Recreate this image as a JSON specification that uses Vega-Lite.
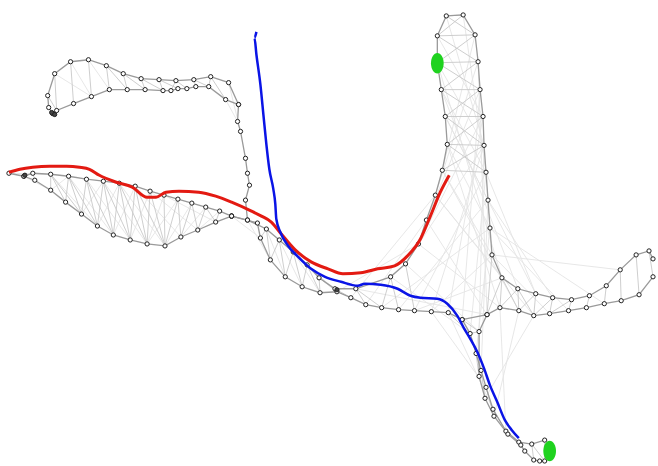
{
"$schema":"https://vega.github.io/schema/vega-lite/v6.json",
"width":658,"height":466,"padding":0,
"autosize":{"type":"fit","contains":"padding"},
"background":"white",
"config":{"view":{"stroke":null}},
"datasets":{
"chains":[
{"c":"a","i":0,"x":53,"y":114},{"c":"a","i":1,"x":49,"y":108},{"c":"a","i":2,"x":48,"y":96},{"c":"a","i":3,"x":55,"y":74},{"c":"a","i":4,"x":71,"y":62},{"c":"a","i":5,"x":89,"y":60},{"c":"a","i":6,"x":107,"y":66},{"c":"a","i":7,"x":124,"y":74},{"c":"a","i":8,"x":142,"y":79},{"c":"a","i":9,"x":160,"y":80},{"c":"a","i":10,"x":177,"y":81},{"c":"a","i":11,"x":195,"y":80},{"c":"a","i":12,"x":212,"y":77},{"c":"a","i":13,"x":230,"y":83},{"c":"a","i":14,"x":240,"y":105},{"c":"a","i":15,"x":239,"y":122},{"c":"a","i":16,"x":242,"y":132},{"c":"a","i":17,"x":247,"y":159},{"c":"a","i":18,"x":249,"y":174},{"c":"a","i":19,"x":251,"y":186},{"c":"a","i":20,"x":247,"y":201},{"c":"a","i":21,"x":249,"y":221},
{"c":"b","i":0,"x":53,"y":114},{"c":"b","i":1,"x":57,"y":111},{"c":"b","i":2,"x":74,"y":104},{"c":"b","i":3,"x":92,"y":97},{"c":"b","i":4,"x":110,"y":90},{"c":"b","i":5,"x":128,"y":90},{"c":"b","i":6,"x":146,"y":90},{"c":"b","i":7,"x":164,"y":91},{"c":"b","i":8,"x":172,"y":91},{"c":"b","i":9,"x":179,"y":89},{"c":"b","i":10,"x":188,"y":89},{"c":"b","i":11,"x":197,"y":87},{"c":"b","i":12,"x":210,"y":87},{"c":"b","i":13,"x":227,"y":100},{"c":"b","i":14,"x":240,"y":105},
{"c":"c","i":0,"x":9,"y":174},{"c":"c","i":1,"x":24,"y":177},{"c":"c","i":2,"x":33,"y":174},{"c":"c","i":3,"x":51,"y":175},{"c":"c","i":4,"x":69,"y":177},{"c":"c","i":5,"x":87,"y":180},{"c":"c","i":6,"x":104,"y":182},{"c":"c","i":7,"x":120,"y":184},{"c":"c","i":8,"x":136,"y":187},{"c":"c","i":9,"x":151,"y":192},{"c":"c","i":10,"x":165,"y":196},{"c":"c","i":11,"x":179,"y":200},{"c":"c","i":12,"x":193,"y":204},{"c":"c","i":13,"x":207,"y":208},{"c":"c","i":14,"x":221,"y":212},{"c":"c","i":15,"x":233,"y":217},
{"c":"d","i":0,"x":24,"y":177},{"c":"d","i":1,"x":35,"y":181},{"c":"d","i":2,"x":51,"y":191},{"c":"d","i":3,"x":66,"y":203},{"c":"d","i":4,"x":82,"y":215},{"c":"d","i":5,"x":98,"y":227},{"c":"d","i":6,"x":114,"y":236},{"c":"d","i":7,"x":131,"y":241},{"c":"d","i":8,"x":148,"y":245},{"c":"d","i":9,"x":166,"y":247},{"c":"d","i":10,"x":182,"y":238},{"c":"d","i":11,"x":199,"y":231},{"c":"d","i":12,"x":217,"y":223},{"c":"d","i":13,"x":233,"y":217},
{"c":"e","i":0,"x":233,"y":217},{"c":"e","i":1,"x":249,"y":221},{"c":"e","i":2,"x":268,"y":230},{"c":"e","i":3,"x":281,"y":241},{"c":"e","i":4,"x":295,"y":253},{"c":"e","i":5,"x":309,"y":266},{"c":"e","i":6,"x":321,"y":279},{"c":"e","i":7,"x":337,"y":290},{"c":"e","i":8,"x":358,"y":290},{"c":"e","i":9,"x":393,"y":278},{"c":"e","i":10,"x":408,"y":265},{"c":"e","i":11,"x":421,"y":245},{"c":"e","i":12,"x":429,"y":221},{"c":"e","i":13,"x":438,"y":196},{"c":"e","i":14,"x":445,"y":171},{"c":"e","i":15,"x":450,"y":145},{"c":"e","i":16,"x":448,"y":117},{"c":"e","i":17,"x":444,"y":90},{"c":"e","i":18,"x":440,"y":63},{"c":"e","i":19,"x":440,"y":36},{"c":"e","i":20,"x":449,"y":16},{"c":"e","i":21,"x":466,"y":15},{"c":"e","i":22,"x":478,"y":35},{"c":"e","i":23,"x":481,"y":62},{"c":"e","i":24,"x":483,"y":90},{"c":"e","i":25,"x":486,"y":117},{"c":"e","i":26,"x":487,"y":146},{"c":"e","i":27,"x":489,"y":173},{"c":"e","i":28,"x":491,"y":201},{"c":"e","i":29,"x":493,"y":229},{"c":"e","i":30,"x":495,"y":256},{"c":"e","i":31,"x":505,"y":279},{"c":"e","i":32,"x":521,"y":290},{"c":"e","i":33,"x":539,"y":295},{"c":"e","i":34,"x":556,"y":299},{"c":"e","i":35,"x":575,"y":301},{"c":"e","i":36,"x":593,"y":297},{"c":"e","i":37,"x":610,"y":287},{"c":"e","i":38,"x":624,"y":271},{"c":"e","i":39,"x":640,"y":256},{"c":"e","i":40,"x":653,"y":252},{"c":"e","i":41,"x":657,"y":260},
{"c":"f","i":0,"x":233,"y":217},{"c":"f","i":1,"x":259,"y":224},{"c":"f","i":2,"x":262,"y":239},{"c":"f","i":3,"x":272,"y":261},{"c":"f","i":4,"x":287,"y":278},{"c":"f","i":5,"x":304,"y":288},{"c":"f","i":6,"x":322,"y":294},{"c":"f","i":7,"x":339,"y":293},{"c":"f","i":8,"x":353,"y":299},{"c":"f","i":9,"x":368,"y":306},{"c":"f","i":10,"x":384,"y":309},{"c":"f","i":11,"x":401,"y":311},{"c":"f","i":12,"x":417,"y":312},{"c":"f","i":13,"x":434,"y":313},{"c":"f","i":14,"x":451,"y":314},{"c":"f","i":15,"x":465,"y":321},{"c":"f","i":16,"x":490,"y":316},{"c":"f","i":17,"x":503,"y":309},{"c":"f","i":18,"x":522,"y":312},{"c":"f","i":19,"x":537,"y":317},{"c":"f","i":20,"x":553,"y":315},{"c":"f","i":21,"x":572,"y":312},{"c":"f","i":22,"x":590,"y":309},{"c":"f","i":23,"x":608,"y":305},{"c":"f","i":24,"x":625,"y":302},{"c":"f","i":25,"x":643,"y":296},{"c":"f","i":26,"x":657,"y":278},
{"c":"g","i":0,"x":465,"y":321},{"c":"g","i":1,"x":473,"y":335},{"c":"g","i":2,"x":479,"y":355},{"c":"g","i":3,"x":484,"y":372},{"c":"g","i":4,"x":489,"y":389},{"c":"g","i":5,"x":496,"y":411},{"c":"g","i":6,"x":509,"y":433},{"c":"g","i":7,"x":522,"y":444},{"c":"g","i":8,"x":535,"y":446},{"c":"g","i":9,"x":548,"y":442},
{"c":"h","i":0,"x":490,"y":316},{"c":"h","i":1,"x":482,"y":333},{"c":"h","i":2,"x":482,"y":378},{"c":"h","i":3,"x":488,"y":400},{"c":"h","i":4,"x":497,"y":418},{"c":"h","i":5,"x":511,"y":436},{"c":"h","i":6,"x":524,"y":447},{"c":"h","i":7,"x":528,"y":453},{"c":"h","i":8,"x":537,"y":462},{"c":"h","i":9,"x":543,"y":463},{"c":"h","i":10,"x":548,"y":463}
],
"rungs":[
{"x":71,"y":62,"x2":74,"y2":104},{"x":89,"y":60,"x2":92,"y2":97},{"x":107,"y":66,"x2":110,"y2":90},{"x":107,"y":66,"x2":128,"y2":90},{"x":124,"y":74,"x2":128,"y2":90},{"x":124,"y":74,"x2":146,"y2":90},{"x":142,"y":79,"x2":146,"y2":90},{"x":142,"y":79,"x2":164,"y2":91},{"x":160,"y":80,"x2":164,"y2":91},{"x":160,"y":80,"x2":179,"y2":89},{"x":177,"y":81,"x2":172,"y2":91},{"x":177,"y":81,"x2":188,"y2":89},{"x":195,"y":80,"x2":197,"y2":87},{"x":195,"y":80,"x2":210,"y2":87},{"x":212,"y":77,"x2":210,"y2":87},{"x":212,"y":77,"x2":227,"y2":100},{"x":55,"y":74,"x2":57,"y2":111},{"x":48,"y":96,"x2":57,"y2":111},
{"x":33,"y":174,"x2":35,"y2":181},{"x":51,"y":175,"x2":51,"y2":191},{"x":51,"y":175,"x2":66,"y2":203},{"x":69,"y":177,"x2":66,"y2":203},{"x":69,"y":177,"x2":82,"y2":215},{"x":87,"y":180,"x2":82,"y2":215},{"x":87,"y":180,"x2":98,"y2":227},{"x":104,"y":182,"x2":98,"y2":227},{"x":104,"y":182,"x2":114,"y2":236},{"x":120,"y":184,"x2":114,"y2":236},{"x":120,"y":184,"x2":131,"y2":241},{"x":136,"y":187,"x2":131,"y2":241},{"x":136,"y":187,"x2":148,"y2":245},{"x":151,"y":192,"x2":148,"y2":245},{"x":151,"y":192,"x2":166,"y2":247},{"x":165,"y":196,"x2":166,"y2":247},{"x":179,"y":200,"x2":166,"y2":247},{"x":179,"y":200,"x2":182,"y2":238},{"x":193,"y":204,"x2":182,"y2":238},{"x":193,"y":204,"x2":199,"y2":231},{"x":207,"y":208,"x2":199,"y2":231},{"x":207,"y":208,"x2":217,"y2":223},{"x":221,"y":212,"x2":217,"y2":223},{"x":69,"y":177,"x2":98,"y2":227},{"x":87,"y":180,"x2":114,"y2":236},{"x":104,"y":182,"x2":131,"y2":241},{"x":120,"y":184,"x2":148,"y2":245},{"x":136,"y":187,"x2":166,"y2":247},{"x":51,"y":175,"x2":82,"y2":215},
{"x":249,"y":221,"x2":259,"y2":224},{"x":268,"y":230,"x2":262,"y2":239},{"x":268,"y":230,"x2":272,"y2":261},{"x":281,"y":241,"x2":272,"y2":261},{"x":281,"y":241,"x2":287,"y2":278},{"x":295,"y":253,"x2":287,"y2":278},{"x":295,"y":253,"x2":304,"y2":288},{"x":309,"y":266,"x2":304,"y2":288},{"x":309,"y":266,"x2":322,"y2":294},{"x":321,"y":279,"x2":322,"y2":294},{"x":321,"y":279,"x2":339,"y2":293},{"x":337,"y":290,"x2":353,"y2":299},{"x":358,"y":290,"x2":368,"y2":306},{"x":358,"y":290,"x2":384,"y2":309},{"x":393,"y":278,"x2":401,"y2":311},{"x":393,"y":278,"x2":384,"y2":309},{"x":408,"y":265,"x2":417,"y2":312},
{"x":449,"y":16,"x2":466,"y2":15},{"x":440,"y":36,"x2":478,"y2":35},{"x":440,"y":63,"x2":481,"y2":62},{"x":444,"y":90,"x2":483,"y2":90},{"x":448,"y":117,"x2":486,"y2":117},{"x":450,"y":145,"x2":487,"y2":146},{"x":440,"y":36,"x2":466,"y2":15},{"x":449,"y":16,"x2":478,"y2":35},{"x":440,"y":63,"x2":478,"y2":35},{"x":444,"y":90,"x2":481,"y2":62},{"x":448,"y":117,"x2":483,"y2":90},{"x":450,"y":145,"x2":486,"y2":117},{"x":445,"y":171,"x2":487,"y2":146},{"x":440,"y":36,"x2":481,"y2":62},{"x":440,"y":63,"x2":483,"y2":90},{"x":444,"y":90,"x2":486,"y2":117},{"x":448,"y":117,"x2":487,"y2":146},{"x":450,"y":145,"x2":489,"y2":173},{"x":445,"y":171,"x2":489,"y2":173},
{"x":495,"y":256,"x2":490,"y2":316},{"x":505,"y":279,"x2":490,"y2":316},{"x":505,"y":279,"x2":503,"y2":309},{"x":521,"y":290,"x2":503,"y2":309},{"x":521,"y":290,"x2":522,"y2":312},{"x":539,"y":295,"x2":522,"y2":312},{"x":539,"y":295,"x2":537,"y2":317},{"x":556,"y":299,"x2":537,"y2":317},{"x":556,"y":299,"x2":553,"y2":315},{"x":575,"y":301,"x2":553,"y2":315},{"x":575,"y":301,"x2":572,"y2":312},{"x":593,"y":297,"x2":590,"y2":309},{"x":610,"y":287,"x2":608,"y2":305},{"x":624,"y":271,"x2":625,"y2":302},{"x":640,"y":256,"x2":643,"y2":296},{"x":653,"y":252,"x2":657,"y2":278},{"x":505,"y":279,"x2":522,"y2":312},{"x":521,"y":290,"x2":537,"y2":317},
{"x":473,"y":335,"x2":482,"y2":333},{"x":479,"y":355,"x2":482,"y2":378},{"x":484,"y":372,"x2":488,"y2":400},{"x":489,"y":389,"x2":497,"y2":418},{"x":496,"y":411,"x2":511,"y2":436},{"x":509,"y":433,"x2":524,"y2":447},{"x":522,"y":444,"x2":528,"y2":453},{"x":535,"y":446,"x2":537,"y2":462},{"x":548,"y":442,"x2":548,"y2":463},{"x":535,"y":446,"x2":548,"y2":463},{"x":451,"y":314,"x2":473,"y2":335},{"x":465,"y":321,"x2":482,"y2":333}
],
"haze":[
{"x":481,"y":62,"x2":490,"y2":316},{"x":483,"y":90,"x2":465,"y2":321},{"x":486,"y":117,"x2":451,"y2":314},{"x":487,"y":146,"x2":434,"y2":313},{"x":489,"y":173,"x2":417,"y2":312},{"x":491,"y":201,"x2":401,"y2":311},{"x":493,"y":229,"x2":384,"y2":309},{"x":440,"y":63,"x2":505,"y2":279},{"x":444,"y":90,"x2":521,"y2":290},{"x":448,"y":117,"x2":539,"y2":295},{"x":450,"y":145,"x2":503,"y2":309},{"x":445,"y":171,"x2":522,"y2":312},{"x":438,"y":196,"x2":537,"y2":317},{"x":429,"y":221,"x2":490,"y2":316},{"x":421,"y":245,"x2":503,"y2":309},{"x":408,"y":265,"x2":482,"y2":333},{"x":393,"y":278,"x2":473,"y2":335},{"x":493,"y":229,"x2":479,"y2":355},{"x":491,"y":201,"x2":484,"y2":372},{"x":489,"y":173,"x2":473,"y2":335},{"x":487,"y":146,"x2":482,"y2":333},{"x":495,"y":256,"x2":434,"y2":313},{"x":495,"y":256,"x2":553,"y2":315},{"x":505,"y":279,"x2":417,"y2":312},{"x":358,"y":290,"x2":490,"y2":316},{"x":466,"y":15,"x2":489,"y2":173},{"x":449,"y":16,"x2":487,"y2":146},{"x":478,"y":35,"x2":445,"y2":171},{"x":481,"y":62,"x2":438,"y2":196},{"x":483,"y":90,"x2":429,"y2":221},{"x":486,"y":117,"x2":421,"y2":245},{"x":487,"y":146,"x2":408,"y2":265},{"x":440,"y":36,"x2":486,"y2":117},{"x":440,"y":63,"x2":487,"y2":146},{"x":444,"y":90,"x2":489,"y2":173},{"x":448,"y":117,"x2":491,"y2":201},{"x":450,"y":145,"x2":493,"y2":229},{"x":445,"y":171,"x2":495,"y2":256},{"x":438,"y":196,"x2":505,"y2":279},{"x":493,"y":229,"x2":572,"y2":312},{"x":491,"y":201,"x2":556,"y2":299},{"x":489,"y":173,"x2":539,"y2":295},{"x":493,"y":229,"x2":608,"y2":305},{"x":495,"y":256,"x2":624,"y2":271},{"x":429,"y":221,"x2":368,"y2":306},{"x":438,"y":196,"x2":353,"y2":299},{"x":421,"y":245,"x2":339,"y2":293},{"x":451,"y":314,"x2":496,"y2":411},{"x":434,"y":313,"x2":489,"y2":389},{"x":503,"y":309,"x2":509,"y2":433},{"x":522,"y":312,"x2":497,"y2":418},{"x":537,"y":317,"x2":488,"y2":400},
{"x":55,"y":74,"x2":92,"y2":97},{"x":89,"y":60,"x2":110,"y2":90},{"x":71,"y":62,"x2":92,"y2":97},{"x":230,"y":83,"x2":242,"y2":132},{"x":227,"y":100,"x2":239,"y2":122},{"x":24,"y":177,"x2":51,"y2":191},{"x":9,"y":174,"x2":51,"y2":175},{"x":51,"y":191,"x2":69,"y2":177},
{"x":87,"y":180,"x2":131,"y2":241},{"x":104,"y":182,"x2":148,"y2":245},{"x":120,"y":184,"x2":166,"y2":247},{"x":136,"y":187,"x2":182,"y2":238},{"x":151,"y":192,"x2":199,"y2":231},{"x":165,"y":196,"x2":217,"y2":223},{"x":69,"y":177,"x2":114,"y2":236},{"x":51,"y":175,"x2":98,"y2":227},{"x":151,"y":192,"x2":131,"y2":241},{"x":165,"y":196,"x2":148,"y2":245},{"x":179,"y":200,"x2":148,"y2":245},{"x":193,"y":204,"x2":166,"y2":247},{"x":207,"y":208,"x2":182,"y2":238},{"x":221,"y":212,"x2":199,"y2":231},{"x":120,"y":184,"x2":98,"y2":227},{"x":136,"y":187,"x2":114,"y2":236},{"x":104,"y":182,"x2":82,"y2":215},
{"x":233,"y":217,"x2":262,"y2":239},{"x":249,"y":221,"x2":272,"y2":261},{"x":259,"y":224,"x2":281,"y2":241},{"x":268,"y":230,"x2":287,"y2":278},{"x":281,"y":241,"x2":304,"y2":288},{"x":295,"y":253,"x2":322,"y2":294},{"x":309,"y":266,"x2":339,"y2":293}
],
"red":[
{"i":0,"x":9,"y":173},{"i":1,"x":20,"y":170},{"i":2,"x":33,"y":168},{"i":3,"x":50,"y":167},{"i":4,"x":67,"y":167},{"i":5,"x":80,"y":168},{"i":6,"x":90,"y":170},{"i":7,"x":100,"y":176},{"i":8,"x":117,"y":183},{"i":9,"x":133,"y":188},{"i":10,"x":148,"y":198},{"i":11,"x":157,"y":198},{"i":12,"x":167,"y":193},{"i":13,"x":180,"y":192},{"i":14,"x":200,"y":193},{"i":15,"x":217,"y":197},{"i":16,"x":233,"y":203},{"i":17,"x":253,"y":212},{"i":18,"x":263,"y":217},{"i":19,"x":273,"y":223},{"i":20,"x":283,"y":235},{"i":21,"x":297,"y":251},{"i":22,"x":313,"y":263},{"i":23,"x":330,"y":270},{"i":24,"x":345,"y":275},{"i":25,"x":363,"y":274},{"i":26,"x":380,"y":270},{"i":27,"x":397,"y":267},{"i":28,"x":410,"y":257},{"i":29,"x":423,"y":240},{"i":30,"x":433,"y":217},{"i":31,"x":443,"y":193},{"i":32,"x":452,"y":176}
],
"blue":[
{"i":0,"x":258,"y":32},{"i":1,"x":256,"y":38},{"i":2,"x":258,"y":55},{"i":3,"x":262,"y":85},{"i":4,"x":265,"y":115},{"i":5,"x":268,"y":145},{"i":6,"x":271,"y":170},{"i":7,"x":275,"y":190},{"i":8,"x":277,"y":205},{"i":9,"x":278,"y":220},{"i":10,"x":282,"y":233},{"i":11,"x":290,"y":247},{"i":12,"x":300,"y":258},{"i":13,"x":313,"y":270},{"i":14,"x":327,"y":278},{"i":15,"x":343,"y":283},{"i":16,"x":360,"y":287},{"i":17,"x":367,"y":285},{"i":18,"x":383,"y":286},{"i":19,"x":400,"y":290},{"i":20,"x":413,"y":297},{"i":21,"x":423,"y":299},{"i":22,"x":440,"y":300},{"i":23,"x":450,"y":305},{"i":24,"x":460,"y":317},{"i":25,"x":467,"y":330},{"i":26,"x":473,"y":340},{"i":27,"x":480,"y":353},{"i":28,"x":487,"y":370},{"i":29,"x":493,"y":387},{"i":30,"x":500,"y":403},{"i":31,"x":508,"y":422},{"i":32,"x":515,"y":432},{"i":33,"x":522,"y":440}
],
"extra":[{"x":52,"y":113},{"x":55,"y":115},{"x":25,"y":176},{"x":339,"y":291}],
"green":[{"x":440,"y":63.5},{"x":553,"y":453}]
},
"encoding":{
"x":{"field":"x","type":"quantitative","scale":{"domain":[0,658],"nice":false,"zero":false},"axis":null},
"y":{"field":"y","type":"quantitative","scale":{"domain":[0,466],"nice":false,"zero":false,"reverse":true},"axis":null}
},
"layer":[
{"data":{"name":"haze"},"mark":{"type":"rule","stroke":"#e4e4e4","strokeWidth":0.9},
 "encoding":{"x2":{"field":"x2"},"y2":{"field":"y2"}}},
{"data":{"name":"rungs"},"mark":{"type":"rule","stroke":"#c8c8c8","strokeWidth":0.9},
 "encoding":{"x2":{"field":"x2"},"y2":{"field":"y2"}}},
{"data":{"name":"chains"},"mark":{"type":"line","stroke":"#9a9a9a","strokeWidth":1.3},
 "encoding":{"detail":{"field":"c"},"order":{"field":"i"}}},
{"data":{"name":"chains"},"mark":{"type":"point","shape":"circle","size":18,"fill":"white","fillOpacity":1,"stroke":"#222","strokeWidth":1},"encoding":{}},
{"data":{"name":"extra"},"mark":{"type":"point","shape":"circle","size":18,"fill":"#444","fillOpacity":1,"stroke":"#222","strokeWidth":1},"encoding":{}},
{"data":{"name":"red"},"mark":{"type":"line","stroke":"#e31a12","strokeWidth":3,"interpolate":"monotone"},
 "encoding":{"order":{"field":"i"}}},
{"data":{"name":"blue"},"mark":{"type":"line","stroke":"#0a14e6","strokeWidth":2.5,"interpolate":"monotone"},
 "encoding":{"order":{"field":"i"}}},
{"data":{"name":"green"},"mark":{"type":"point","shape":"M -0.62 0 A 0.62 1 0 1 1 0.62 0 A 0.62 1 0 1 1 -0.62 0 Z","size":420,"filled":true,"fill":"#1fd21f","fillOpacity":1,"strokeWidth":0},"encoding":{}}
]
}
